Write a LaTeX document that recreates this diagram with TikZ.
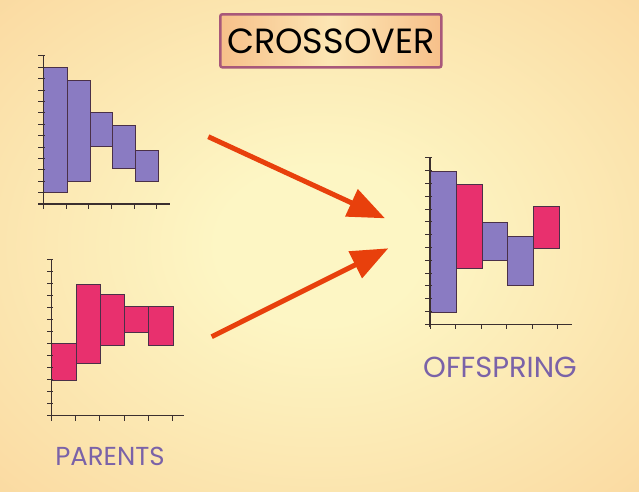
\documentclass[tikz,border=0pt]{standalone}
\usepackage{fontspec}
\setmainfont{Poppins}
\usepackage{tikz}
\usetikzlibrary{arrows.meta}

\definecolor{bgin}{HTML}{FDF6C4}
\definecolor{bgout}{HTML}{F9CC90}
\definecolor{barpurple}{HTML}{8A7BC2}
\definecolor{barpink}{HTML}{E8306E}
\definecolor{barline}{HTML}{4A3048}
\definecolor{axiscol}{HTML}{3B2F2F}
\definecolor{labelcol}{HTML}{7A62A8}
\definecolor{arrowcol}{HTML}{E8400C}
\definecolor{titleline}{HTML}{A8587A}
\definecolor{titleedge}{HTML}{F7C08A}
\definecolor{titlemid}{HTML}{FCE6B4}

\pgfdeclareradialshading{bgshade}{\pgfpoint{0bp}{0bp}}{color(0bp)=(bgin); color(8bp)=(bgin); color(50bp)=(bgout); color(72bp)=(bgout)}

\begin{document}
\begin{tikzpicture}[
    x=1pt, y=-1pt,
    titlebox/.style={rectangle, draw=titleline, line width=2.5pt, rounded corners=2pt,
                     left color=titleedge, right color=titleedge, middle color=titlemid,
                     minimum width=221pt, minimum height=53pt, font=\fontsize{35}{35}\selectfont},
    bar/.style={draw=barline, line width=1pt},
    pbar/.style={bar, fill=barpurple},
    kbar/.style={bar, fill=barpink},
    axis/.style={draw=axiscol, line width=1.3pt},
    tick/.style={draw=axiscol, line width=1pt},
    arrow/.style={-{Triangle[length=37pt, width=29pt]}, line width=5pt, draw=arrowcol},
    label/.style={text=labelcol, font=\fontsize{26}{26}\selectfont}
]

    % Background
    \useasboundingbox (0,0) rectangle (639,491);
    \shade[shading=bgshade] (0,0) rectangle (639,491);

    % Title
    \node[titlebox] (title) at (330.8, 40.8) {CROSSOVER};

    % Parent 1 (top left)
    \fill[pbar] (43.3,67.3) rectangle (67.3,192.3);
    \fill[pbar] (67.3,80) rectangle (90,181);
    \fill[pbar] (90,112.7) rectangle (112.7,146.7);
    \fill[pbar] (112.7,125) rectangle (135.7,168.3);
    \fill[pbar] (135.7,150.7) rectangle (158.3,181);
    \draw[axis] (43.3,55.7) -- (43.3,206.7);
    \draw[axis] (38.3,204) -- (170,204);
    \foreach \j in {1,...,13}
        \draw[tick] (38.3,204-11.4*\j) -- (45,204-11.4*\j);
    \foreach \i in {0,...,5}
        \draw[tick] (43.3+22.7*\i,204) -- (43.3+22.7*\i,209);

    % Parent 2 (bottom left)
    \fill[kbar] (51.7,343.7) rectangle (76.3,380);
    \fill[kbar] (76.3,284) rectangle (100.3,363.7);
    \fill[kbar] (100.3,294) rectangle (124.7,345.3);
    \fill[kbar] (124.7,306.3) rectangle (148.7,332);
    \fill[kbar] (148.7,306.3) rectangle (173,345.3);
    \draw[axis] (51.7,259.3) -- (51.7,418.5);
    \draw[axis] (47,415.7) -- (184.3,415.7);
    \foreach \j in {1,...,13}
        \draw[tick] (47,415.7-12*\j) -- (53.3,415.7-12*\j);
    \foreach \i in {0,...,5}
        \draw[tick] (51.7+24.1*\i,415.7) -- (51.7+24.1*\i,420.5);

    % Offspring (right)
    \fill[pbar] (430,171.7) rectangle (456,312);
    \fill[kbar] (456,184.3) rectangle (482,268.7);
    \fill[pbar] (482,222.7) rectangle (507.3,260);
    \fill[pbar] (507.3,236) rectangle (533,285.7);
    \fill[kbar] (533,206.7) rectangle (559.3,248);
    \draw[axis] (430,158.3) -- (430,327);
    \draw[axis] (425,324.3) -- (571.7,324.3);
    \foreach \j in {1,...,13}
        \draw[tick] (425,324.3-12.8*\j) -- (431.7,324.3-12.8*\j);
    \foreach \i in {0,...,5}
        \draw[tick] (430+25.5*\i,324.3) -- (430+25.5*\i,329);

    % Labels
    \node[label] (parents) at (110, 456.7) {PARENTS};
    \node[label, font=\fontsize{29}{29}\selectfont] (offspring) at (500, 367.8) {OFFSPRING};

    % Arrows
    \coordinate (upstart) at (208.3,136.7);
    \coordinate (upend) at (385,218.3);
    \coordinate (lowstart) at (211.7,336.7);
    \coordinate (lowend) at (388.3,248.3);
    \draw[arrow] (upstart) -- (upend);
    \draw[arrow] (lowstart) -- (lowend);

\end{tikzpicture}
\end{document}
